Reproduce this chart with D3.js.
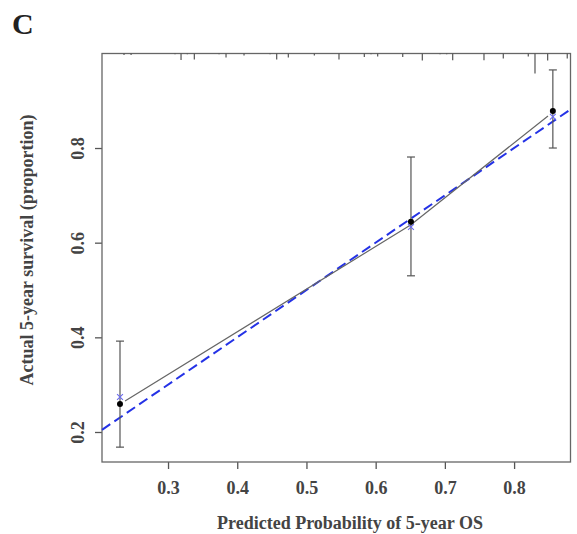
<!DOCTYPE html>
<html>
<head>
<meta charset="utf-8">
<script src="https://cdn.jsdelivr.net/npm/d3@7"></script>
<style>
  body { margin: 0; background: #fff; }
  text { font-family: "Liberation Serif", "Times New Roman", serif; font-weight: bold; }
</style>
</head>
<body>
<figure id="calib" style="margin:0"></figure>
<script>
// calibration groups
const predicted = [0.2306, 0.651, 0.856];
const observed = [0.259, 0.644, 0.878];
const lower = [0.168, 0.530, 0.800];
const upper = [0.392, 0.781, 0.965];
const corrected = [0.274, 0.633, 0.866];

// grey line through the group estimates
const lineX = [0.2379, 0.651, 0.849];
const lineY = [0.2655, 0.638, 0.8677];

// rug of predicted probabilities along the top
const rugX = [0.2364, 0.2466, 0.3101, 0.3188, 0.3279, 0.3380, 0.3737, 0.3838, 0.4098, 0.4474,
  0.4570, 0.4738, 0.5114, 0.5470, 0.5836, 0.5933, 0.6029, 0.6391, 0.6674, 0.6930,
  0.7026, 0.7113, 0.7565, 0.7844, 0.8205, 0.8302, 0.8485, 0.8768];
const rugCount = [1.5, 1.5, 0.8, 6.5, 0.8, 6, 0.8, 4, 2, 0.8,
  6, 4, 2, 6, 3.5, 0.8, 3, 3.5, 7, 0.8,
  0.8, 6.7, 6.7, 5, 3, 20, 7, 5];

const xTicks = [0.3, 0.4, 0.5, 0.6, 0.7, 0.8];
const yTicks = [0.2, 0.4, 0.6, 0.8];

const width = 577, height = 534;
const mLeft = 102, mRight = 570.5, mTop = 53.5, mBottom = 462;

const svg = d3.select("figure#calib")
  .append("svg")
  .attr("width", width)
  .attr("height", height);

const x = d3.scaleLinear().domain([0.2046, 0.8815]).range([mLeft, mRight]);
const y = d3.scaleLinear().domain([0.1366, 0.9997]).range([mBottom, mTop]);
const rugLen = d3.scaleLinear().domain([0, 20]).range([0, 20]);

const axisColor = "#555";

// axes
const xAxis = svg.append("g")
  .attr("transform", "translate(0," + mBottom + ")")
  .call(d3.axisBottom(x).tickValues(xTicks).tickFormat(d3.format(".1f")).tickSize(7).tickPadding(8));
const yAxis = svg.append("g")
  .attr("transform", "translate(" + mLeft + ",0)")
  .call(d3.axisLeft(y).tickValues(yTicks).tickFormat(d3.format(".1f")).tickSize(7).tickPadding(8));

[xAxis, yAxis].forEach(a => {
  a.select(".domain").remove();
  a.selectAll(".tick line").attr("stroke", axisColor).attr("stroke-width", 1.3);
  a.selectAll(".tick text")
    .attr("fill", "#444")
    .style("font-size", "18px")
    .style("font-family", '"Liberation Serif", serif')
    .style("font-weight", "bold");
});
xAxis.selectAll(".tick text").attr("dy", "0.95em");
// y tick labels are vertical, as in base R
yAxis.selectAll(".tick text")
  .attr("x", null).attr("dy", null)
  .attr("text-anchor", "middle")
  .attr("transform", "translate(-18,0) rotate(-90)");

// plot box
svg.append("rect")
  .attr("x", mLeft).attr("y", mTop)
  .attr("width", mRight - mLeft).attr("height", mBottom - mTop)
  .attr("fill", "none")
  .attr("stroke", "#666")
  .attr("stroke-width", 1.3);

// rug ticks hanging from the top border
svg.append("g").selectAll("line")
  .data(rugX)
  .enter()
  .append("line")
  .attr("x1", d => x(d)).attr("x2", d => x(d))
  .attr("y1", mTop)
  .attr("y2", (d, i) => mTop + rugLen(rugCount[i]))
  .attr("stroke", "#555")
  .attr("stroke-width", 1.2);

// ideal line (dashed blue)
const d0 = x.domain();
svg.append("line")
  .attr("x1", x(d0[0])).attr("y1", y(d0[0]))
  .attr("x2", x(d0[1])).attr("y2", y(d0[1]))
  .attr("stroke", "#2432e6")
  .attr("stroke-width", 2)
  .attr("stroke-dasharray", "10,5");

// grey calibration line
svg.append("path")
  .datum(lineX.map((v, i) => [v, lineY[i]]))
  .attr("d", d3.line().x(d => x(d[0])).y(d => y(d[1])))
  .attr("fill", "none")
  .attr("stroke", "#666")
  .attr("stroke-width", 1.2);

// error bars
const bars = svg.append("g");
predicted.forEach((p, i) => {
  const cx = x(p);
  bars.append("line")
    .attr("x1", cx).attr("x2", cx)
    .attr("y1", y(lower[i])).attr("y2", y(upper[i]))
    .attr("stroke", "#555").attr("stroke-width", 1.2);
  [lower[i], upper[i]].forEach(v => {
    bars.append("line")
      .attr("x1", cx - 4).attr("x2", cx + 4)
      .attr("y1", y(v)).attr("y2", y(v))
      .attr("stroke", "#555").attr("stroke-width", 1.2);
  });
});

// bias-corrected estimates (blue x)
svg.append("g").selectAll("path")
  .data(predicted)
  .enter()
  .append("path")
  .attr("d", d3.symbol().type(d3.symbolX).size(24))
  .attr("transform", (d, i) => "translate(" + x(d) + "," + y(corrected[i]) + ")")
  .attr("fill", "none")
  .attr("stroke", "#6a6af0")
  .attr("stroke-width", 1.1);

// observed points
svg.append("g").selectAll("circle")
  .data(predicted)
  .enter()
  .append("circle")
  .attr("cx", d => x(d))
  .attr("cy", (d, i) => y(observed[i]))
  .attr("r", 3)
  .attr("fill", "#000");

// titles
svg.append("text")
  .attr("x", 350)
  .attr("y", 529)
  .attr("text-anchor", "middle")
  .attr("fill", "#444")
  .style("font-size", "18px")
  .text("Predicted Probability of 5-year OS");

svg.append("text")
  .attr("transform", "translate(33," + 250 + ") rotate(-90)")
  .attr("text-anchor", "middle")
  .attr("fill", "#444")
  .style("font-size", "18px")
  .text("Actual 5-year survival (proportion)");

svg.append("text")
  .attr("x", 12)
  .attr("y", 34)
  .attr("fill", "#222")
  .style("font-size", "30px")
  .text("C");
</script>
</body>
</html>
